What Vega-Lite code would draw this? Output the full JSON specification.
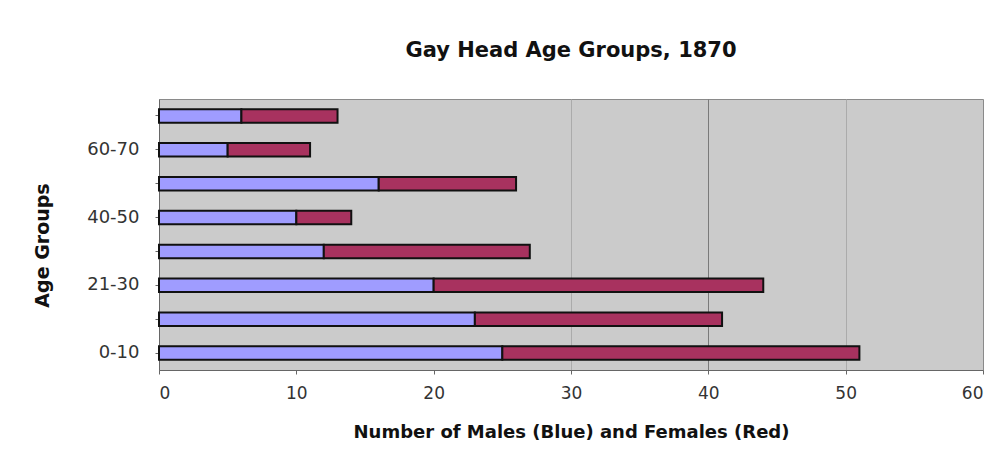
{
  "$schema": "https://vega.github.io/schema/vega-lite/v6.json",
  "autosize": {"type": "none"},
  "width": 824,
  "height": 271,
  "padding": {"left": 159, "top": 99, "right": 25, "bottom": 89},
  "background": "white",
  "title": {
    "text": "Gay Head Age Groups, 1870",
    "font": "DejaVu Sans",
    "fontSize": 21,
    "fontWeight": "bold",
    "color": "#111",
    "anchor": "middle",
    "offset": 38
  },
  "data": {
    "values": [
      {"group": "0-10", "sex": "Male", "order": 1, "count": 25},
      {"group": "0-10", "sex": "Female", "order": 2, "count": 26},
      {"group": "11-20", "sex": "Male", "order": 1, "count": 23},
      {"group": "11-20", "sex": "Female", "order": 2, "count": 18},
      {"group": "21-30", "sex": "Male", "order": 1, "count": 20},
      {"group": "21-30", "sex": "Female", "order": 2, "count": 24},
      {"group": "31-40", "sex": "Male", "order": 1, "count": 12},
      {"group": "31-40", "sex": "Female", "order": 2, "count": 15},
      {"group": "40-50", "sex": "Male", "order": 1, "count": 10},
      {"group": "40-50", "sex": "Female", "order": 2, "count": 4},
      {"group": "51-60", "sex": "Male", "order": 1, "count": 16},
      {"group": "51-60", "sex": "Female", "order": 2, "count": 10},
      {"group": "60-70", "sex": "Male", "order": 1, "count": 5},
      {"group": "60-70", "sex": "Female", "order": 2, "count": 6},
      {"group": "70-80", "sex": "Male", "order": 1, "count": 6},
      {"group": "70-80", "sex": "Female", "order": 2, "count": 7}
    ]
  },
  "mark": {"type": "bar", "stroke": "#111", "strokeWidth": 2},
  "encoding": {
    "y": {
      "field": "group",
      "type": "ordinal",
      "sort": ["70-80", "60-70", "51-60", "40-50", "31-40", "21-30", "11-20", "0-10"],
      "scale": {"paddingInner": 0.6, "paddingOuter": 0.3},
      "axis": {
        "title": "Age Groups",
        "titleFont": "DejaVu Sans",
        "titleFontSize": 19,
        "titleFontWeight": "bold",
        "titleColor": "#111",
        "titlePadding": 34,
        "titleY": 146,
        "labelFont": "DejaVu Sans",
        "labelFontSize": 18,
        "labelColor": "#333",
        "labelPadding": 16,
        "labelExpr": "indexof(['0-10','21-30','40-50','60-70'], datum.value) >= 0 ? datum.value : ''",
        "domainColor": "#666",
        "tickColor": "#666",
        "tickSize": 4
      }
    },
    "x": {
      "field": "count",
      "type": "quantitative",
      "stack": "zero",
      "scale": {"domain": [0, 60], "nice": false},
      "axis": {
        "title": "Number of Males (Blue) and Females (Red)",
        "titleFont": "DejaVu Sans",
        "titleFontSize": 18,
        "titleFontWeight": "bold",
        "titleColor": "#111",
        "titlePadding": 22,
        "values": [0, 10, 20, 30, 40, 50, 60],
        "labelFont": "DejaVu Sans",
        "labelFontSize": 17,
        "labelColor": "#333",
        "labelPadding": 11,
        "domainColor": "#666",
        "tickColor": "#666",
        "tickSize": 4,
        "grid": true,
        "gridColor": {"condition": {"test": "datum.value === 40", "value": "#7a7a7a"}, "value": "#ababab"},
        "gridOpacity": {"condition": {"test": "datum.value === 30 || datum.value === 40 || datum.value === 50", "value": 1}, "value": 0}
      }
    },
    "color": {
      "field": "sex",
      "type": "nominal",
      "scale": {"domain": ["Male", "Female"], "range": ["#9f9cff", "#a8325f"]},
      "legend": null
    },
    "order": {"field": "order", "type": "quantitative"}
  },
  "config": {
    "view": {"fill": "#cbcbcb", "stroke": "#8a8a8a", "strokeWidth": 1}
  }
}
